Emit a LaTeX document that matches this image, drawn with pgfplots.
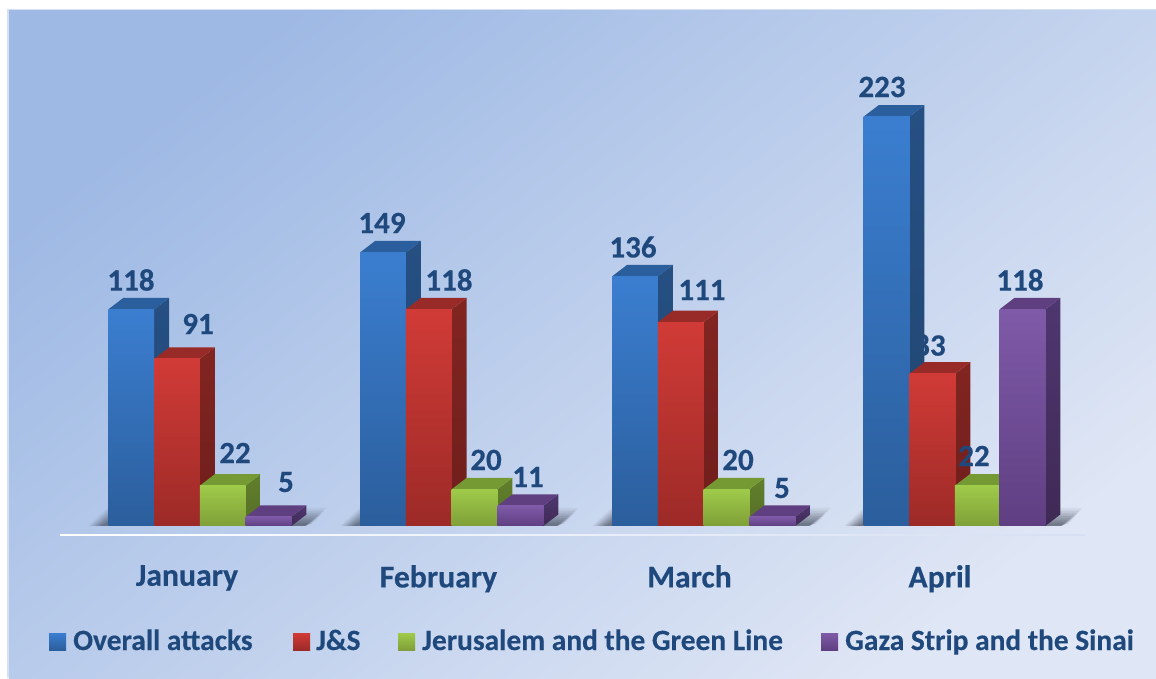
\documentclass[border=0pt]{standalone}
\usepackage{fontspec}
\setmainfont[BoldFeatures={FakeBold=0.35}]{Carlito}
\usepackage{pgfplots}
\pgfplotsset{compat=1.18}
\definecolor{txt}{HTML}{1F497D}
\definecolor{bT}{HTML}{3B7ED0}\definecolor{bB}{HTML}{2B5E9C}\definecolor{bS}{HTML}{264F83}\definecolor{bSb}{HTML}{204670}\definecolor{bP}{HTML}{2B5E9C}
\definecolor{rT}{HTML}{D13B37}\definecolor{rB}{HTML}{9C2A27}\definecolor{rS}{HTML}{822521}\definecolor{rSb}{HTML}{6E1E1C}\definecolor{rP}{HTML}{982A28}
\definecolor{gT}{HTML}{9FCB4A}\definecolor{gB}{HTML}{7F9F38}\definecolor{gS}{HTML}{617F2C}\definecolor{gSb}{HTML}{566F27}\definecolor{gP}{HTML}{769A33}
\definecolor{pT}{HTML}{7F5AA8}\definecolor{pB}{HTML}{5F3F82}\definecolor{pS}{HTML}{4E3770}\definecolor{pSb}{HTML}{3F2A55}\definecolor{pP}{HTML}{5F3F80}
\definecolor{shad}{HTML}{3A4250}
\definecolor{bgA}{HTML}{9EB9E4}\definecolor{bgB}{HTML}{DFE6F5}\definecolor{bgEdge}{HTML}{D5E0F2}\definecolor{lineEnd}{HTML}{D6E0F2}
\newcommand{\threedbar}[3]{%
  \pgfmathsetmacro{\xl}{#1-22.875}\pgfmathsetmacro{\xr}{#1+22.875}%
  \pgfmathsetmacro{\xlb}{\xl+15}\pgfmathsetmacro{\xrb}{\xr+15}%
  \pgfmathsetmacro{\vb}{#2+6.25}%
  \addplot[draw=none,no markers,forget plot,top color=#3S,bottom color=#3Sb] coordinates {(\xr,0)(\xrb,6.25)(\xrb,\vb)(\xr,#2)} --cycle;
  \addplot[draw=none,no markers,forget plot,fill=#3P] coordinates {(\xl,#2)(\xlb,\vb)(\xrb,\vb)(\xr,#2)} --cycle;
  \addplot[ybar,bar width=45.75,bar shift=0pt,draw=none,forget plot,top color=#3T,bottom color=#3B] coordinates {(#1,#2)};
}
\newcommand{\shadowlayer}[3]{%
  \pgfmathsetmacro{\sa}{#1-20+#2}\pgfmathsetmacro{\sb}{#1+219-#2}%
  \pgfmathsetmacro{\se}{#1+197}\pgfmathsetmacro{\sh}{10-#2*0.62}%
  \addplot[draw=none,no markers,forget plot,fill=shad,fill opacity=#3] coordinates {(\sa,0)(#1,\sh)(\sb,\sh)(\se,0)} --cycle;
}
\newcommand{\groundshadow}[1]{\shadowlayer{#1}{0}{0.05}\shadowlayer{#1}{1.5}{0.06}\shadowlayer{#1}{3}{0.07}\shadowlayer{#1}{4.5}{0.08}\shadowlayer{#1}{6}{0.09}\shadowlayer{#1}{7.5}{0.10}\shadowlayer{#1}{9}{0.11}\shadowlayer{#1}{10.5}{0.12}\shadowlayer{#1}{12}{0.13}\shadowlayer{#1}{13.5}{0.14}}
\newcommand{\lab}[3]{\node[text=txt,font=\fontsize{31}{34}\bfseries\selectfont,inner sep=0pt] at (axis cs:#1,{(526-#2)/1.836}) {#3};}
\newcommand{\legkey}[3]{\shade[top color=#3T,bottom color=#3B] (axis cs:#1,{(526-650)/1.836}) rectangle (axis cs:#2,{(526-633)/1.836});}
\newcommand{\legtxt}[2]{\node[text=txt,font=\fontsize{29.4}{32}\bfseries\selectfont,anchor=base west,inner sep=0pt] at (axis cs:#1,{(526-650)/1.836}) {#2};}
\begin{document}
\begin{tikzpicture}
\path[use as bounding box,fill=white] (0,0) rectangle (1156pt,678pt);
\fill[bgEdge] (7pt,0) rectangle (1156pt,669pt);
\shade[top color=bgA,bottom color=bgB,shading angle=38] (9pt,0) rectangle (1156pt,667pt);
\begin{axis}[
  at={(0,0)},anchor=south west,
  scale only axis,width=1156pt,height=678pt,
  xmin=0,xmax=1156,ymin=-82.79,ymax=286.49,
  axis x line=middle,axis y line=none,
  x axis line style={draw=none},
  major tick length=0pt,
  xtick={187,438.5,689.5,940},
  xticklabels={January,February,March,April},
  xticklabel style={text=txt,font=\fontsize{31.7}{34}\bfseries\selectfont,yshift=-39pt,inner sep=0pt},
  clip=false,
]
\addplot[draw=none,no markers,forget plot,left color=white,right color=lineEnd] coordinates {(60,-4.5)(1085,-4.5)(1085,-5.3)(60,-5.3)} --cycle;
\groundshadow{108}\groundshadow{360}\groundshadow{612}\groundshadow{864}
\lab{930}{345}{83}
\threedbar{131.2}{118}{b}\threedbar{177}{91}{r}\threedbar{222.8}{22}{g}\threedbar{268.5}{5}{p}
\threedbar{383}{149}{b}\threedbar{428.8}{118}{r}\threedbar{474.6}{20}{g}\threedbar{520.4}{11}{p}
\threedbar{635}{136}{b}\threedbar{680.8}{111}{r}\threedbar{726.6}{20}{g}\threedbar{772.4}{5}{p}
\threedbar{886.6}{223}{b}\threedbar{932.4}{83}{r}\threedbar{977.8}{22}{g}\threedbar{1022.4}{118}{p}
\lab{131}{280}{118}\lab{198}{324}{91}\lab{235}{453}{22}\lab{286}{482}{5}
\lab{382}{223}{149}\lab{449}{280}{118}\lab{486}{460}{20}\lab{528}{477}{11}
\lab{633}{247}{136}\lab{702}{290}{111}\lab{738}{460}{20}\lab{782}{488}{5}
\lab{882}{87}{223}\lab{974}{456}{22}\lab{1020}{280}{118}
\legkey{49}{66}{b}\legtxt{73}{Overall attacks}
\legkey{293}{310}{r}\legtxt{316}{J\&S}
\legkey{398}{415}{g}\legtxt{422}{Jerusalem and the Green Line}
\legkey{821}{838}{p}\legtxt{845}{Gaza Strip and the Sinai}
\end{axis}
\end{tikzpicture}
\end{document}
